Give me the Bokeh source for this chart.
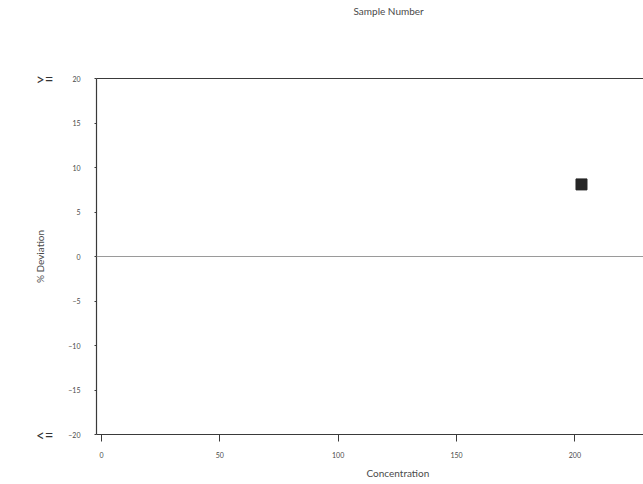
from bokeh.plotting import figure
from bokeh.models import Range1d, LinearAxis, FixedTicker, Span, Title
from bokeh.embed import file_html
from bokeh.resources import INLINE

# data
concentration = [202.8]
deviation = [8.1]
x_ticks = [0, 50, 100, 150, 200]
y_ticks = [-20, -15, -10, -5, 0, 5, 10, 15, 20]
limit_ticks = [20, -20]
limit_labels = {20: ">=", -20: "<="}
y_limits = (-20, 20)
x_limits = (-2.1, 229.0)

FONT = "Lato"
LINE = "#3a3a3a"
TXT = "#4a4a4a"

p = figure(width=643, height=484, output_backend="svg", toolbar_location=None,
           x_range=Range1d(*x_limits), y_range=Range1d(*y_limits),
           min_border_left=96, min_border_top=78, min_border_bottom=50, min_border_right=0)
p.outline_line_color = None
p.xgrid.visible = False
p.ygrid.visible = False
p.background_fill_color = "white"
p.border_fill_color = "white"
p.title.visible = False

for ax in (p.xaxis[0], p.yaxis[0]):
    ax.axis_line_color = LINE
    ax.axis_line_width = 1.2
    ax.major_tick_line_color = LINE
    ax.minor_tick_line_color = None
    ax.major_label_text_font = FONT
    ax.major_label_text_font_size = "7px"
    ax.major_label_text_color = TXT
    ax.major_tick_in = 0

p.xaxis[0].ticker = FixedTicker(ticks=x_ticks)
p.xaxis[0].major_tick_out = 7
p.xaxis[0].major_label_standoff = 10
p.yaxis[0].ticker = FixedTicker(ticks=y_ticks)
p.yaxis[0].major_tick_out = 2
p.yaxis[0].major_label_standoff = 14

# outer left axis carrying the >= / <= markers and the axis title
outer = LinearAxis(ticker=FixedTicker(ticks=limit_ticks),
                   major_label_overrides=limit_labels,
                   axis_line_color=None, major_tick_line_color=None,
                   minor_tick_line_color=None,
                   major_label_text_font=FONT, major_label_text_font_size="15px",
                   major_label_text_color="#333333", major_label_standoff=6,
                   axis_label="% Deviation", axis_label_text_font=FONT,
                   axis_label_text_font_size="10px", axis_label_text_font_style="normal",
                   axis_label_text_color=TXT, axis_label_standoff=-13)
p.add_layout(outer, "left")

top = LinearAxis(ticker=FixedTicker(ticks=[]), axis_line_color=LINE, axis_line_width=1.2,
                 major_tick_line_color=None, minor_tick_line_color=None,
                 major_label_text_font_size="0px",
                 axis_label=" ", axis_label_text_font=FONT, axis_label_text_font_size="10px",
                 axis_label_standoff=47)
p.add_layout(top, "above")

top_title = Title(text="Sample Number", text_font=FONT, text_font_size="10px",
                  text_font_style="normal", text_color=TXT, align="left", offset=257,
                  standoff=0)
p.add_layout(top_title, "above")

bottom_title = Title(text="Concentration", text_font=FONT, text_font_size="10px",
                     text_font_style="normal", text_color=TXT, align="left", offset=270,
                     standoff=9)
p.add_layout(bottom_title, "below")

p.add_layout(Span(location=0, dimension="width", line_color="#9a9a9a", line_width=1))

p.scatter(concentration, deviation, marker="square", size=11,
          fill_color="#262626", line_color="#262626")

open("out.html", "w").write(file_html(p, INLINE))
